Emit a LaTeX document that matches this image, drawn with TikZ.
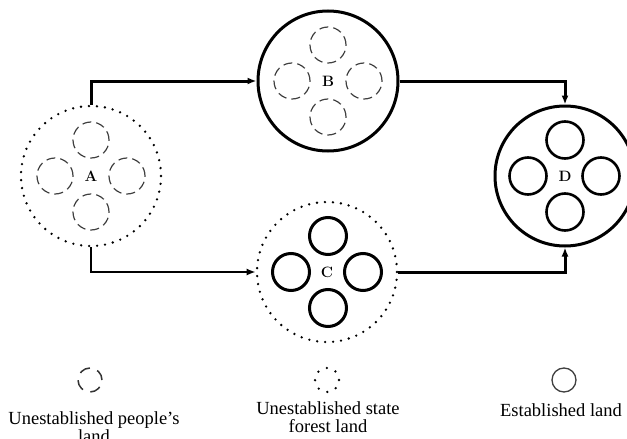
\documentclass[tikz,border=0pt]{standalone}
\usepackage{fontspec}
\newfontfamily\lib{Liberation Serif}
\usetikzlibrary{arrows.meta}
\begin{document}
\begin{tikzpicture}[x=1pt,y=-1pt,
  outersolid/.style={circle, draw, line width=3pt, minimum size=140pt, inner sep=0pt},
  outerdot/.style={circle, draw, line width=2.6pt, dash pattern=on 0pt off 8pt, line cap=round, minimum size=140pt, inner sep=0pt},
  innerdash/.style={circle, draw=black!75, line width=1.2pt, dash pattern=on 9pt off 5pt, minimum size=36pt, inner sep=0pt},
  innersolid/.style={circle, draw, line width=3pt, minimum size=37pt, inner sep=0pt},
  lbl/.style={font=\fontsize{15}{15}\selectfont\bfseries, inner sep=0pt},
  conn/.style={line width=3pt, -{Latex[length=9pt,width=7pt]}},
  legdash/.style={circle, draw=black!80, line width=1.5pt, dash pattern=on 11pt off 7.85pt, minimum size=24pt, inner sep=0pt},
  legdot/.style={circle, draw, line width=2.6pt, dash pattern=on 0pt off 9.42pt, line cap=round, minimum size=24pt, inner sep=0pt},
  legsolid/.style={circle, draw=black!75, line width=1.3pt, minimum size=24pt, inner sep=0pt},
  legtext/.style={font=\lib\fontsize{18.5}{18}\selectfont, anchor=base, inner sep=0pt}
]
\useasboundingbox (0,0) rectangle (627,439);

% A
\node[outerdot] (A) at (91,176) {};
\node[lbl] (Al) at (91,176) {A};
\node[innerdash] (a1) at (91,140) {};
\node[innerdash] (a2) at (55,176) {};
\node[innerdash] (a3) at (127,176) {};
\node[innerdash] (a4) at (91,212) {};

% B
\node[outersolid] (B) at (328,81) {};
\node[lbl] (Bl) at (328,81) {B};
\node[innerdash] (b1) at (328,45) {};
\node[innerdash] (b2) at (292,81) {};
\node[innerdash] (b3) at (364,81) {};
\node[innerdash] (b4) at (328,117) {};

% C
\node[outerdot] (C) at (327,272) {};
\node[lbl] (Cl) at (327,272) {C};
\node[innersolid] (c1) at (328,236) {};
\node[innersolid] (c2) at (291,272) {};
\node[innersolid] (c3) at (363,272) {};
\node[innersolid] (c4) at (328,308) {};

% D
\node[outersolid] (D) at (565,176) {};
\node[lbl] (Dl) at (565,176) {D};
\node[innersolid, line width=2.6pt] (d1) at (565,140) {};
\node[innersolid, line width=2.6pt] (d2) at (528,176) {};
\node[innersolid, line width=2.6pt] (d3) at (601,176) {};
\node[innersolid, line width=2.6pt] (d4) at (565,212) {};

% connectors
\draw[conn] (A.north) |- (B.west);
\draw[conn] (B.east) -| (D.north);
\draw[conn, line width=2.5pt] (A.south) |- (C.west);
\draw[conn] (C.east) -| (D.south);

% legend
\node[legdash] (l1) at (90,380) {};
\node[legdot] (l2) at (327,380) {};
\node[legsolid] (l3) at (564,380) {};
\node[legtext] (t1) at (94,424) {Unestablished people’s};
\node[legtext] (t1b) at (94,442) {land};
\node[legtext] (t2) at (328,414) {Unestablished state};
\node[legtext] (t2b) at (328,432) {forest land};
\node[legtext] (t3) at (561,416) {Established land};
\end{tikzpicture}
\end{document}
